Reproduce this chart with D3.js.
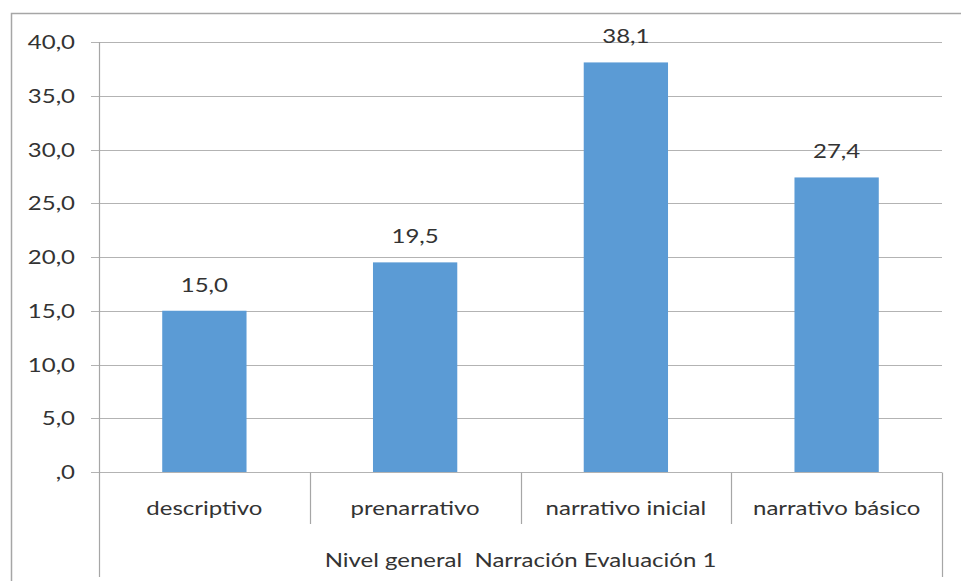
<!DOCTYPE html>
<html>
<head>
<meta charset="utf-8">
<script src="https://cdn.jsdelivr.net/npm/d3@7"></script>
<style>
  html, body { margin: 0; padding: 0; background: #fff; }
  svg { display: block; }
  text { font-family: Lato, "Open Sans", sans-serif; fill: #333; font-size: 20px; }
</style>
</head>
<body>
<svg id="chart" width="961" height="581"></svg>
<script>
// Nivel general – Narración, Evaluación 1
const categories = ["descriptivo", "prenarrativo", "narrativo inicial", "narrativo básico"];
const values = [15.0, 19.5, 38.1, 27.4];
const yTicks = [0, 5, 10, 15, 20, 25, 30, 35, 40];
const axisTitle = "Nivel general  Narración Evaluación 1";

const fmt = v => {
  const s = v.toFixed(1).replace(".", ",");
  return s.startsWith("0,") ? s.slice(1) : s;
};

const svg = d3.select("#chart");
const W = 961, H = 581;
const m = { left: 99, right: 19, top: 42, bottom: 109 };
const plotW = W - m.left - m.right;
const plotH = H - m.top - m.bottom;
const SX = 1.2; // horizontal widening of the label glyphs

// place a text element at (px, py) with widened glyphs
const place = (sel, px, py) =>
  sel.attr("transform", (d, i) => `translate(${px(d, i)},${py(d, i)}) scale(${SX},1)`);

// outer chart frame (cut by the page edge on the right and bottom)
svg.append("path")
  .attr("d", `M11.5,${H} V13.5 H${W}`)
  .attr("fill", "none")
  .attr("stroke", "#a6a6a6")
  .attr("stroke-width", 1.5);

const x = d3.scaleBand().domain(categories).range([m.left, m.left + plotW]).paddingInner(0).paddingOuter(0);
const y = d3.scaleLinear().domain([0, 40]).range([m.top + plotH, m.top]);

const g = svg.append("g");

// horizontal gridlines with short tick stubs to the left
g.selectAll("line.grid").data(yTicks).join("line")
  .attr("class", "grid")
  .attr("x1", m.left - 8).attr("x2", m.left + plotW)
  .attr("y1", d => Math.round(y(d)) + 0.5).attr("y2", d => Math.round(y(d)) + 0.5)
  .attr("stroke", "#b3b3b3").attr("stroke-width", 1.2);

// y axis labels
g.selectAll("text.ytick").data(yTicks).join("text")
  .attr("class", "ytick")
  .attr("dy", "0.35em")
  .attr("text-anchor", "end")
  .call(place, () => m.left - 24, d => y(d))
  .text(fmt);

// bars
const bw = x.bandwidth() * 0.4;
g.selectAll("rect.bar").data(values).join("rect")
  .attr("class", "bar")
  .attr("x", (d, i) => x(categories[i]) + (x.bandwidth() - bw) / 2)
  .attr("width", bw)
  .attr("y", d => y(d))
  .attr("height", d => y(0) - y(d))
  .attr("fill", "#5b9bd5");

// value labels
g.selectAll("text.val").data(values).join("text")
  .attr("class", "val")
  .attr("text-anchor", "middle")
  .call(place, (d, i) => x(categories[i]) + x.bandwidth() / 2, d => y(d) - 19)
  .text(fmt);

// y axis line, extended down around the category table
const y0 = Math.round(y(0)) + 0.5;
g.append("line")
  .attr("x1", m.left + 0.5).attr("x2", m.left + 0.5)
  .attr("y1", m.top).attr("y2", 577)
  .attr("stroke", "#a6a6a6").attr("stroke-width", 1.2);
g.append("line")
  .attr("x1", m.left + plotW + 0.5).attr("x2", m.left + plotW + 0.5)
  .attr("y1", y0).attr("y2", 577)
  .attr("stroke", "#a6a6a6").attr("stroke-width", 1.2);

// category separators
const inner = categories.slice(1).map(c => x(c));
g.selectAll("line.sep").data(inner).join("line")
  .attr("class", "sep")
  .attr("x1", d => Math.round(d) + 0.5).attr("x2", d => Math.round(d) + 0.5)
  .attr("y1", y0).attr("y2", 524)
  .attr("stroke", "#a6a6a6").attr("stroke-width", 1.2);

// category labels
g.selectAll("text.cat").data(categories).join("text")
  .attr("class", "cat")
  .attr("text-anchor", "middle")
  .call(place, d => x(d) + x.bandwidth() / 2, () => 515)
  .text(d => d);

// axis title
g.append("text")
  .attr("text-anchor", "middle")
  .attr("xml:space", "preserve")
  .style("white-space", "pre")
  .attr("transform", `translate(${m.left + plotW / 2},567) scale(${SX},1)`)
  .text(axisTitle);
</script>
</body>
</html>
